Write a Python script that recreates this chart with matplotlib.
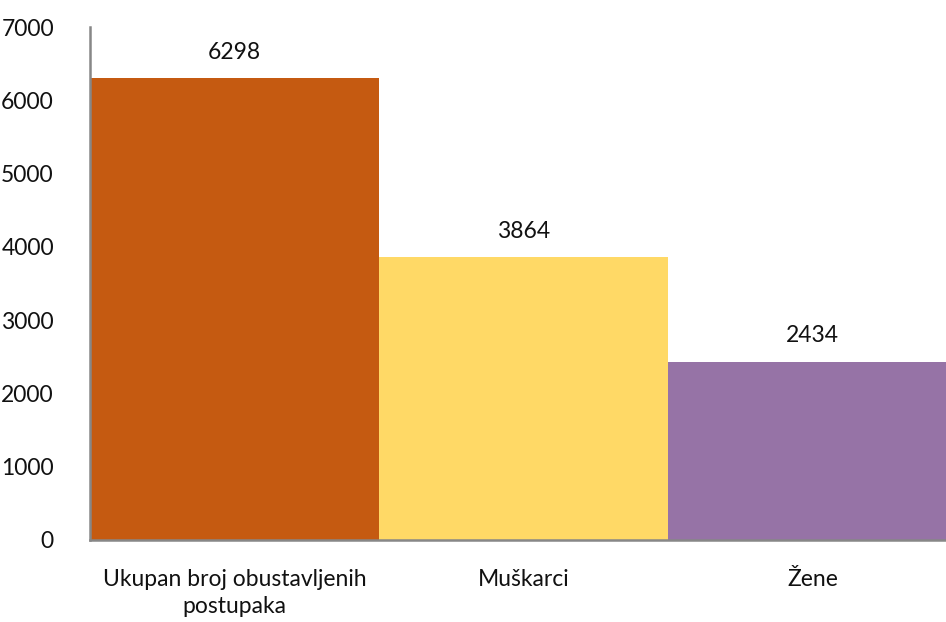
import matplotlib
matplotlib.use("Agg")
import matplotlib.pyplot as plt

categories = ["Ukupan broj obustavljenih\npostupaka", "Muškarci", "Žene"]
values = [6298, 3864, 2434]
colors = ["#C55A11", "#FFD966", "#9673A6"]
yticks = [0, 1000, 2000, 3000, 4000, 5000, 6000, 7000]

plt.rcParams["font.family"] = ["Lato", "DejaVu Sans"]
FS = 16.5

fig = plt.figure(figsize=(9.46, 6.22), dpi=100)
# the plot area runs slightly past the right edge of the figure
ax = fig.add_axes([90 / 946, 1 - 540 / 622, (957 - 90) / 946, (540 - 27) / 622])

x = range(len(categories))
ax.bar(x, values, width=1.0, color=colors, edgecolor="none", zorder=2)

for xi, v in zip(x, values):
    ax.annotate(str(v), (xi, v), xytext=(0, 11), textcoords="offset points",
                ha="center", va="bottom", fontsize=FS, color="#111111")

ax.set_xlim(-0.5, len(categories) - 0.5)
ax.set_ylim(0, 7000)
ax.set_yticks(yticks)
ax.set_yticklabels([str(t) for t in yticks], fontsize=FS, color="#111111")
ax.set_xticks(list(x))
ax.set_xticklabels(categories, fontsize=FS, color="#111111", linespacing=1.35,
                   multialignment="center")
ax.tick_params(axis="both", length=0)
ax.tick_params(axis="y", pad=26)
ax.tick_params(axis="x", pad=21)

for s in ["top", "right"]:
    ax.spines[s].set_visible(False)
for s in ["left", "bottom"]:
    ax.spines[s].set_color("#878787")
    ax.spines[s].set_linewidth(1.8)
    ax.spines[s].set_zorder(3)

fig.savefig("out.png", dpi=100)
